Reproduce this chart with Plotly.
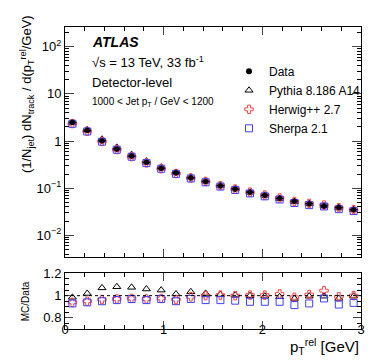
import numpy as np
import plotly.graph_objects as go
from plotly.subplots import make_subplots

x_bins = [0.075, 0.225, 0.375, 0.525, 0.675, 0.825, 0.975, 1.125, 1.275, 1.425,
          1.575, 1.725, 1.875, 2.025, 2.175, 2.325, 2.475, 2.625, 2.775, 2.925]
data_vals = [2.5, 1.7, 1.02, 0.68, 0.48, 0.355, 0.266, 0.212, 0.166, 0.139,
             0.113, 0.096, 0.082, 0.071, 0.061, 0.053, 0.047, 0.042, 0.039, 0.035]
ratio_pythia = [0.985, 1.02, 1.07, 1.08, 1.075, 1.06, 1.05, 1.015, 1.035, 1.02,
                1.01, 1.005, 1.0, 0.995, 0.99, 0.975, 0.995, 0.995, 0.975, 0.995]
ratio_herwig = [0.94, 0.95, 0.965, 0.97, 0.975, 0.97, 0.975, 0.965, 0.99, 1.0,
                1.005, 1.0, 1.005, 1.005, 1.015, 0.985, 1.01, 1.045, 0.99, 1.0]
ratio_sherpa = [0.93, 0.94, 0.95, 0.96, 0.97, 0.96, 0.97, 0.95, 0.97, 0.96,
                0.96, 0.955, 0.945, 0.945, 0.945, 0.915, 0.93, 0.975, 0.92, 0.935]
top_tickvals = [0.01, 0.1, 1, 10, 100]
top_ticktext = ["10<sup>\u22122</sup>", "10<sup>\u22121</sup>", "1", "10", "10<sup>2</sup>"]

data_arr = np.array(data_vals)
pythia_vals = data_arr * np.array(ratio_pythia)
herwig_vals = data_arr * np.array(ratio_herwig)
sherpa_vals = data_arr * np.array(ratio_sherpa)

FONT = "Liberation Sans, Arial, sans-serif"
RED = "#ff4040"
BLUE = "#4040ff"

fig = make_subplots(rows=2, cols=1, shared_xaxes=False, vertical_spacing=0.0)

def add_mc(vals, ratio, name, symbol, color, show, size):
    fig.add_trace(go.Scatter(x=x_bins, y=vals, mode="markers", name=name,
                             marker=dict(symbol=symbol, color=color, size=size,
                                         line=dict(color=color, width=1)),
                             showlegend=show), row=1, col=1)
    fig.add_trace(go.Scatter(x=x_bins, y=ratio, mode="markers", name=name,
                             marker=dict(symbol=symbol, color=color, size=size,
                                         line=dict(color=color, width=1)),
                             showlegend=False), row=2, col=1)

fig.add_trace(go.Scatter(x=x_bins, y=data_vals, mode="markers", name="Data",
                         marker=dict(symbol="circle", color="black", size=6),
                         error_y=dict(type="percent", value=8, color="black", thickness=1, width=0),
                         error_x=dict(type="constant", value=0.04, color="black", thickness=1, width=0),
                         showlegend=True), row=1, col=1)
add_mc(pythia_vals, ratio_pythia, "Pythia 8.186 A14", "triangle-up-open", "black", True, 7)
add_mc(herwig_vals, ratio_herwig, "Herwig++ 2.7", "cross-open", RED, True, 7)
add_mc(sherpa_vals, ratio_sherpa, "Sherpa 2.1", "square-open", BLUE, True, 7)
fig.add_trace(go.Scatter(x=x_bins, y=data_vals, mode="markers", name="Data",
                         marker=dict(symbol="circle", color="black", size=5),
                         error_y=dict(type="percent", value=8, color="black", thickness=1, width=0),
                         error_x=dict(type="constant", value=0.04, color="black", thickness=1, width=0),
                         showlegend=False), row=1, col=1)

fig.add_shape(type="line", x0=0, x1=3, y0=1, y1=1, xref="x2", yref="y2",
              line=dict(color="black", width=1, dash="dot"))

axis_common = dict(showline=True, linecolor="black", linewidth=1, mirror="allticks",
                   ticks="inside", showgrid=False, zeroline=False,
                   tickfont=dict(family=FONT, size=13, color="black"))

fig.update_xaxes(range=[0, 3], domain=[0, 1], tickvals=[0, 1, 2, 3], ticklen=8,
                 minor=dict(dtick=0.2, ticks="inside", ticklen=4, tickcolor="black"),
                 **axis_common)
fig.update_xaxes(showticklabels=False, row=1, col=1)
fig.update_xaxes(row=2, col=1, ticktext=["0", "1", "2", "3"], ticklabelstandoff=-12)

fig.update_yaxes(type="log", range=[-2.45, 2.42], domain=[0.24, 1], row=1, col=1,
                 tickvals=top_tickvals, ticktext=top_ticktext, ticklen=9,
                 minor=dict(ticks="inside", ticklen=4, tickcolor="black",
                            tickvals=[v * k for v in [0.001, 0.01, 0.1, 1, 10, 100] for k in range(2, 10)]),
                 **axis_common)
fig.update_yaxes(range=[0.7, 1.2], domain=[0, 0.184], row=2, col=1,
                 tickvals=[0.8, 1.0, 1.2], ticktext=["0.8", "1", "1.2"], ticklen=8,
                 minor=dict(dtick=0.05, ticks="inside", ticklen=4, tickcolor="black"),
                 **axis_common)

def pxp(px):
    return (px - 57) / 296.0

def pyp(py):
    return (321 - py) / 304.0

annos = [
    dict(text="<b><i>ATLAS</i></b>", x=pxp(82), y=pyp(32), size=14),
    dict(text="\u221As = 13 TeV, 33 fb<sup>-1</sup>", x=pxp(82), y=pyp(52), size=13),
    dict(text="Detector-level", x=pxp(82), y=pyp(73), size=13),
    dict(text="1000 < Jet p<sub>T</sub> / GeV < 1200", x=pxp(82), y=pyp(92), size=10),
]
for a in annos:
    fig.add_annotation(text=a["text"], x=a["x"], y=a["y"], xref="paper", yref="paper",
                       xanchor="left", yanchor="middle", showarrow=False,
                       font=dict(family=FONT, size=a["size"], color="black"))

fig.add_annotation(text="(1/N<sub>jet</sub>) dN<sub>track</sub> / d(p<sub>T</sub><sup>rel</sup>/GeV)",
                   x=-0.13, y=pyp(85), xref="paper", yref="paper", textangle=-90,
                   xanchor="center", yanchor="middle", showarrow=False,
                   font=dict(family=FONT, size=13, color="black"))
fig.add_annotation(text="MC/Data", x=-0.135, y=pyp(293), xref="paper", yref="paper",
                   textangle=-90, xanchor="center", yanchor="middle", showarrow=False,
                   font=dict(family=FONT, size=10, color="black"))
fig.add_annotation(text="p<sub>T</sub><sup>rel</sup> [GeV]", x=1.0, y=pyp(339), xref="paper",
                   yref="paper", xanchor="right", yanchor="middle", showarrow=False,
                   font=dict(family=FONT, size=15, color="black"))

fig.update_layout(
    width=374, height=362,
    margin=dict(l=57, r=21, t=17, b=41),
    paper_bgcolor="white", plot_bgcolor="white",
    showlegend=True,
    legend=dict(x=pxp(221), y=pyp(47), xanchor="left", yanchor="top",
                bgcolor="rgba(0,0,0,0)", font=dict(family=FONT, size=12, color="black"),
                tracegroupgap=0, itemwidth=30),
    font=dict(family=FONT),
)

fig.write_html("out.html")
